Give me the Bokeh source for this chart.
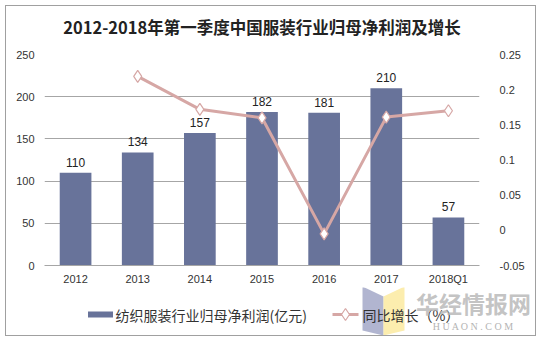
from bokeh.plotting import figure
from bokeh.models import (FactorRange, Range1d, LinearAxis, ColumnDataSource, FixedTicker)
from bokeh.layouts import column
from bokeh.embed import file_html
from bokeh.resources import INLINE
from bokeh.core.properties import value

categories = ["2012", "2013", "2014", "2015", "2016", "2017", "2018Q1"]
profit = [110, 134, 157, 182, 181, 210, 57]
growth_cats = ["2013", "2014", "2015", "2016", "2017", "2018Q1"]
growth = [0.219, 0.172, 0.160, -0.005, 0.161, 0.170]
left_ticks = [0, 50, 100, 150, 200, 250]
right_ticks = [-0.05, 0, 0.05, 0.1, 0.15, 0.2, 0.25]
title_text = "2012-2018年第一季度中国服装行业归母净利润及增长"
bar_name = "纺织服装行业归母净利润(亿元)"
line_name = "同比增长（%）"

FONT = "Noto Sans CJK SC"
NUMF = "Liberation Sans"
BAR_C = "#68739a"
LINE_C = "#d6a7a5"
TXT_C = "#333333"

W, H_TITLE, H_MAIN, H_LEG = 529, 40, 241, 48


def strip(height):
    f = figure(width=W, height=height, x_range=Range1d(0, W), y_range=Range1d(0, height),
               output_backend="svg", toolbar_location=None,
               x_axis_location=None, y_axis_location=None,
               min_border=0, min_border_left=0, min_border_right=0,
               min_border_top=0, min_border_bottom=0)
    f.frame_align = False
    f.grid.visible = False
    f.outline_line_color = None
    return f


# title strip
top = strip(H_TITLE)
top.text(x=[255.5], y=[20], text=[title_text], text_baseline="middle", text_align="center",
         text_font=value(FONT), text_font_size="16.5px", text_font_style="bold",
         text_color="#222222")

# main chart
p = figure(width=W, height=H_MAIN, x_range=FactorRange(*categories),
           y_range=Range1d(0, 250), output_backend="svg", toolbar_location=None,
           min_border_left=38, min_border_right=56, min_border_top=8, min_border_bottom=20)
p.outline_line_color = None
p.frame_align = False
p.extra_y_ranges = {"g": Range1d(-0.05, 0.25)}

src = ColumnDataSource(dict(x=categories, y=profit, t=[str(v) for v in profit]))
p.vbar(x="x", top="y", width=0.51, source=src, fill_color=BAR_C, line_color=None)
p.text(x="x", y="y", text="t", source=src, text_align="center", text_baseline="bottom",
       y_offset=-6, text_font=value(NUMF), text_font_size="12px", text_color="#222222")

gsrc = ColumnDataSource(dict(x=growth_cats, y=growth))
p.line(x="x", y="y", source=gsrc, y_range_name="g", line_color=LINE_C, line_width=3)
p.scatter(x="x", y="y", source=gsrc, y_range_name="g", marker="diamond", size=12,
          fill_color="white", line_color=LINE_C, line_width=1.2)


def style_axis(ax, standoff):
    ax.axis_line_color = None
    ax.major_tick_line_color = None
    ax.minor_tick_line_color = None
    ax.major_tick_out = 0
    ax.major_tick_in = 0
    ax.minor_tick_out = 0
    ax.major_label_text_font = NUMF
    ax.major_label_text_font_size = "11px"
    ax.major_label_text_color = TXT_C
    ax.major_label_standoff = standoff


p.yaxis.ticker = FixedTicker(ticks=left_ticks)
style_axis(p.yaxis[0], 10)

ax_r = LinearAxis(y_range_name="g", ticker=FixedTicker(ticks=right_ticks))
style_axis(ax_r, 20)
ax_r.major_label_overrides = {-0.05: "-0.05", 0: "0", 0.05: "0.05", 0.1: "0.1",
                              0.15: "0.15", 0.2: "0.2", 0.25: "0.25"}
p.add_layout(ax_r, "right")

style_axis(p.xaxis[0], 7)
p.xaxis.axis_line_color = "#a6a6a6"

p.xgrid.grid_line_color = None
p.ygrid.ticker = FixedTicker(ticks=left_ticks)
p.ygrid.grid_line_color = "#a6a6a6"

# legend strip
leg = strip(H_LEG)

# watermark logo
leg.patch([356, 377, 377, 356], [49, 39, 0, 5], fill_color="#a3a8c8", fill_alpha=0.85, line_color=None)
leg.patch([377, 398, 398, 377], [39, 49, 5, 0], fill_color="#fbeaa0", fill_alpha=0.85, line_color=None)

LY = 21
leg.rect(x=[94], y=[LY], width=25, height=6, fill_color=BAR_C, line_color=None)
leg.text(x=[109], y=[LY], text=[bar_name], text_baseline="middle", text_align="left",
         text_font=value(FONT), text_font_size="14px", text_color=TXT_C)
leg.line(x=[326, 352], y=[LY, LY], line_color=LINE_C, line_width=3)
leg.scatter(x=[339], y=[LY], marker="diamond", size=12, fill_color="white",
            line_color=LINE_C, line_width=1.2)
leg.text(x=[356], y=[LY], text=[line_name], text_baseline="middle", text_align="left",
         text_font=value(FONT), text_font_size="14px", text_color=TXT_C)

# watermark text
leg.text(x=[467], y=[33], text=["华经情报网"], text_baseline="middle", text_align="center",
         text_font=value(FONT), text_font_size="23px", text_font_style="bold",
         text_color="#b4b4b4", text_alpha=0.8)
leg.text(x=[467], y=[9], text=["H U A O N . C O M"], text_baseline="middle", text_align="center",
         text_font=value("Liberation Serif"), text_font_size="10px",
         text_color="#b4b4b4")

layout = column(top, p, leg, spacing=0,
                styles={"margin-left": "5px", "margin-top": "5px", "border": "1px solid #a0a0a0"})

open("out.html", "w").write(file_html(layout, INLINE))
